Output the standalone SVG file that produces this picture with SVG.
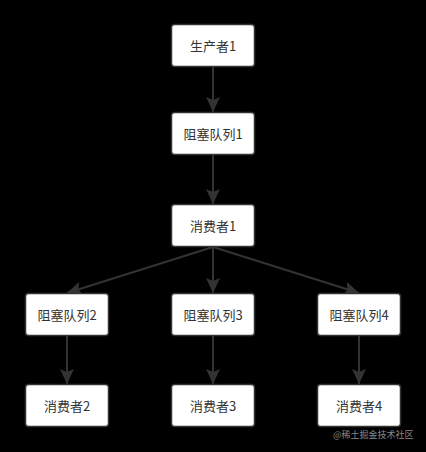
<svg xmlns="http://www.w3.org/2000/svg" width="426" height="452" viewBox="0 0 426 452">
<style>
.box{fill:#fff;stroke:#333;stroke-width:1.5}
.lbl{font-family:"Noto Sans CJK SC","Liberation Sans",sans-serif;font-size:13px;fill:#333;text-anchor:middle;dominant-baseline:central}
.edge{stroke:#333;stroke-width:2;fill:none;marker-end:url(#ah)}
.wm{font-family:"Noto Sans CJK SC","Liberation Sans",sans-serif;font-size:9px;fill:#888}
</style>
<defs>
<marker id="ah" viewBox="0 0 15 14" refX="15" refY="7" markerWidth="15" markerHeight="14" markerUnits="userSpaceOnUse" orient="auto">
<path d="M0,0 L15,7 L0,14 L3,7 Z" fill="#333"/>
</marker>
</defs>
<rect width="426" height="452" fill="#000"/>
<g id="connectors">
<line class="edge" x1="213" y1="67" x2="213" y2="112"/>
<line class="edge" x1="213" y1="155" x2="213" y2="204"/>
<line class="edge" x1="213" y1="247" x2="67" y2="293"/>
<line class="edge" x1="213" y1="247" x2="213" y2="293"/>
<line class="edge" x1="213" y1="247" x2="359" y2="293"/>
<line class="edge" x1="67" y1="336" x2="67" y2="384"/>
<line class="edge" x1="213" y1="336" x2="213" y2="384"/>
<line class="edge" x1="359" y1="336" x2="359" y2="384"/>
</g>
<g id="producer1"><rect class="box" x="171.5" y="24.5" width="83" height="42" rx="3"/><text class="lbl" x="213" y="45.5">生产者1</text></g>
<g id="queue1"><rect class="box" x="171.5" y="112.5" width="83" height="42" rx="3"/><text class="lbl" x="213" y="133.5">阻塞队列1</text></g>
<g id="consumer1"><rect class="box" x="171.5" y="204.5" width="83" height="42" rx="3"/><text class="lbl" x="213" y="225.5">消费者1</text></g>
<g id="queue2"><rect class="box" x="25.5" y="293.5" width="83" height="42" rx="3"/><text class="lbl" x="67" y="314.5">阻塞队列2</text></g>
<g id="queue3"><rect class="box" x="171.5" y="293.5" width="83" height="42" rx="3"/><text class="lbl" x="213" y="314.5">阻塞队列3</text></g>
<g id="queue4"><rect class="box" x="317.5" y="293.5" width="83" height="42" rx="3"/><text class="lbl" x="359" y="314.5">阻塞队列4</text></g>
<g id="consumer2"><rect class="box" x="25.5" y="384.5" width="83" height="42" rx="3"/><text class="lbl" x="67" y="405.5">消费者2</text></g>
<g id="consumer3"><rect class="box" x="171.5" y="384.5" width="83" height="42" rx="3"/><text class="lbl" x="213" y="405.5">消费者3</text></g>
<g id="consumer4"><rect class="box" x="317.5" y="384.5" width="83" height="42" rx="3"/><text class="lbl" x="359" y="405.5">消费者4</text></g>
<text class="wm" x="333" y="438">@稀土掘金技术社区</text>
</svg>
